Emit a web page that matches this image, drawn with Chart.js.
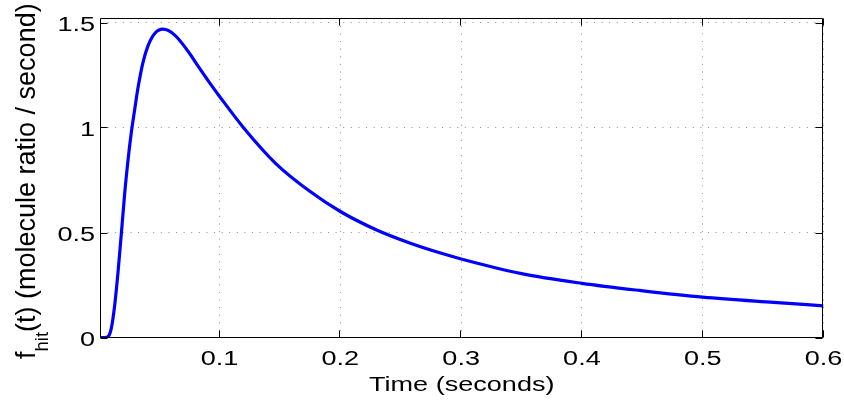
<!DOCTYPE html>
<html>
<head>
<meta charset="utf-8">
<script src="https://cdn.jsdelivr.net/npm/chart.js@4.4.1/dist/chart.umd.min.js"></script>
<style>
    html, body { margin: 0; padding: 0; background: #fff; }
</style>
</head>
<body>
<canvas id="hitChart" width="844" height="407"></canvas>
<script>
// hit rate curve, sampled denser on the steep rise
const times = [0.001, 0.005, 0.0076, 0.0104, 0.0132, 0.0159, 0.0186, 0.0215, 0.0242, 0.0269,
    0.0297, 0.0325, 0.0366, 0.0408, 0.0463, 0.0532, 0.0629, 0.0739, 0.0822, 0.0921,
    0.1, 0.12, 0.147, 0.175, 0.2, 0.23, 0.258, 0.283, 0.3, 0.35,
    0.4, 0.448, 0.5, 0.559, 0.6]
const hitRate = [0, 0, 0.004, 0.045, 0.155, 0.31, 0.49, 0.69, 0.845, 0.975,
    1.085, 1.19, 1.31, 1.39, 1.448, 1.468, 1.44, 1.363, 1.292, 1.21,
    1.148, 0.998, 0.826, 0.695, 0.6, 0.512, 0.449, 0.402, 0.374, 0.304,
    0.258, 0.224, 0.192, 0.167, 0.151]
const xTicks = [0.1, 0.2, 0.3, 0.4, 0.5, 0.6]
const xLabels = ['0.1', '0.2', '0.3', '0.4', '0.5', '0.6']
const yTicks = [0, 0.5, 1, 1.5]
const yLabels = ['0', '0.5', '1', '1.5']

const FONT = '"Liberation Sans", Arial, Helvetica, sans-serif'
const STRETCH = 1.32

// box, inward tick marks and the axis texts
const axesBox = {
    id: 'axesBox',
    afterDraw(chart) {
        const ctx = chart.ctx
        const a = chart.chartArea
        const xs = chart.scales.x, ys = chart.scales.y
        const L = Math.floor(a.left) + 0.5, R = Math.floor(a.right) - 0.5
        const T = Math.floor(a.top) + 0.5, B = Math.floor(a.bottom) + 0.5
        ctx.save()
        ctx.strokeStyle = '#000'
        ctx.lineWidth = 1
        ctx.beginPath()
        ctx.rect(L, T, R - L, B - T)
        xTicks.forEach(v => {
            const px = Math.round(xs.getPixelForValue(v)) - 0.5
            ctx.moveTo(px, B); ctx.lineTo(px, B - 7)
            ctx.moveTo(px, T); ctx.lineTo(px, T + 7)
        })
        yTicks.forEach(v => {
            const py = Math.round(ys.getPixelForValue(v)) + 0.5
            ctx.moveTo(L, py); ctx.lineTo(L + 7, py)
            ctx.moveTo(R, py); ctx.lineTo(R - 7, py)
        })
        ctx.stroke()

        ctx.fillStyle = '#000'
        ctx.font = `20.5px ${FONT}`
        ctx.textBaseline = 'alphabetic'
        xTicks.forEach((v, i) => {
            ctx.save()
            ctx.translate(xs.getPixelForValue(v), a.bottom + 27)
            ctx.scale(STRETCH, 1)
            ctx.textAlign = 'center'
            ctx.fillText(xLabels[i], 0, 0)
            ctx.restore()
        })
        yTicks.forEach((v, i) => {
            ctx.save()
            ctx.translate(a.left - 5, ys.getPixelForValue(v) + 8)
            ctx.scale(STRETCH, 1)
            ctx.textAlign = 'right'
            ctx.fillText(yLabels[i], 0, 0)
            ctx.restore()
        })

        // x title
        ctx.save()
        ctx.translate((a.left + a.right) / 2, a.bottom + 53)
        ctx.scale(STRETCH, 1)
        ctx.textAlign = 'center'
        ctx.fillText('Time (seconds)', 0, 0)
        ctx.restore()

        // y title with subscript
        ctx.save()
        ctx.translate(35, 359)
        ctx.rotate(-Math.PI / 2)
        ctx.textAlign = 'left'
        ctx.font = `27px ${FONT}`
        let pos = 0
        ctx.fillText('f', pos, 0)
        pos += ctx.measureText('f').width
        ctx.font = `18.5px ${FONT}`
        ctx.fillText('hit', pos, 13)
        pos += ctx.measureText('hit').width
        ctx.font = `27px ${FONT}`
        ctx.fillText('(t) (molecule ratio / second)', pos, 0)
        ctx.restore()

        ctx.restore()
    }
}

const gridOpts = { color: '#8f8f8f', lineWidth: 1, drawTicks: false }

new Chart(document.getElementById('hitChart'), {
    type: 'line',
    data: {
        datasets: [{
            data: times.map((t, i) => ({ x: t, y: hitRate[i] })),
            borderColor: '#0000ff',
            borderWidth: 3.2,
            pointRadius: 0,
            fill: false,
            cubicInterpolationMode: 'monotone'
        }]
    },
    options: {
        responsive: false,
        animation: false,
        devicePixelRatio: 1,
        layout: { padding: { top: 18.3, right: 20.5, left: 0, bottom: 0 } },
        plugins: { legend: { display: false }, tooltip: { enabled: false } },
        scales: {
            x: {
                type: 'linear',
                min: 0.001,
                max: 0.6,
                afterBuildTicks: s => { s.ticks = xTicks.map(v => ({ value: v })) },
                afterFit: s => { s.height = 69.5 },
                ticks: { display: false },
                grid: gridOpts,
                border: { display: false, dash: [1, 6.6] }
            },
            y: {
                type: 'linear',
                min: 0,
                max: 1.52,
                afterBuildTicks: s => { s.ticks = yTicks.map(v => ({ value: v })) },
                afterFit: s => { s.width = 100 },
                ticks: { display: false },
                grid: gridOpts,
                border: { display: false, dash: [1, 6.6] }
            }
        }
    },
    plugins: [axesBox]
})
</script>
</body>
</html>
